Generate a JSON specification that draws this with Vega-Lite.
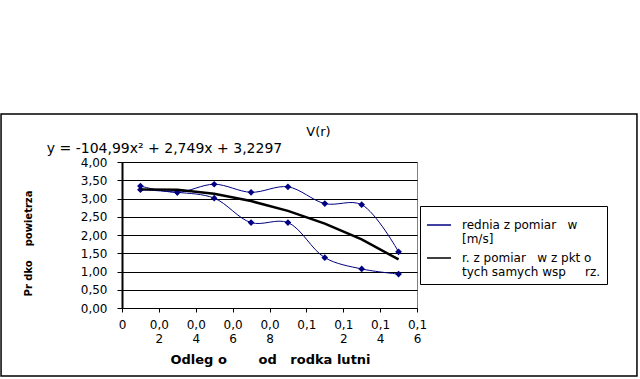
{
  "$schema": "https://vega.github.io/schema/vega-lite/v6.json",
  "width": 295,
  "height": 146,
  "autosize": {"type": "none"},
  "padding": {"left": 122, "top": 162, "right": 223, "bottom": 71},
  "background": "white",
  "config": {
    "font": "DejaVu Sans",
    "view": {"stroke": "#808080", "strokeWidth": 1}
  },
  "title": {
    "text": "V(r)",
    "anchor": "middle",
    "frame": "group",
    "dx": 49,
    "offset": -36,
    "baseline": "alphabetic",
    "font": "DejaVu Sans",
    "fontSize": 13,
    "fontWeight": "normal",
    "color": "black"
  },
  "datasets": {
    "pomiary": [
      {"seria": "  rednia z pomiar  w [m/s]", "galaz": "gorna", "r": 0.01, "v": 3.34},
      {"seria": "  rednia z pomiar  w [m/s]", "galaz": "gorna", "r": 0.03, "v": 3.17},
      {"seria": "  rednia z pomiar  w [m/s]", "galaz": "gorna", "r": 0.05, "v": 3.39},
      {"seria": "  rednia z pomiar  w [m/s]", "galaz": "gorna", "r": 0.07, "v": 3.17},
      {"seria": "  rednia z pomiar  w [m/s]", "galaz": "gorna", "r": 0.09, "v": 3.32},
      {"seria": "  rednia z pomiar  w [m/s]", "galaz": "gorna", "r": 0.11, "v": 2.86},
      {"seria": "  rednia z pomiar  w [m/s]", "galaz": "gorna", "r": 0.13, "v": 2.83},
      {"seria": "  rednia z pomiar  w [m/s]", "galaz": "gorna", "r": 0.15, "v": 1.54},
      {"seria": "  rednia z pomiar  w [m/s]", "galaz": "dolna", "r": 0.01, "v": 3.24},
      {"seria": "  rednia z pomiar  w [m/s]", "galaz": "dolna", "r": 0.03, "v": 3.17},
      {"seria": "  rednia z pomiar  w [m/s]", "galaz": "dolna", "r": 0.05, "v": 3.01},
      {"seria": "  rednia z pomiar  w [m/s]", "galaz": "dolna", "r": 0.07, "v": 2.34},
      {"seria": "  rednia z pomiar  w [m/s]", "galaz": "dolna", "r": 0.09, "v": 2.34},
      {"seria": "  rednia z pomiar  w [m/s]", "galaz": "dolna", "r": 0.11, "v": 1.38},
      {"seria": "  rednia z pomiar  w [m/s]", "galaz": "dolna", "r": 0.13, "v": 1.07},
      {"seria": "  rednia z pomiar  w [m/s]", "galaz": "dolna", "r": 0.15, "v": 0.93}
    ],
    "srednia": [
      {"seria": "  r. z pomiar  w z pkt o tych samych wsp  rz.", "r": 0.01, "v": 3.25},
      {"seria": "  r. z pomiar  w z pkt o tych samych wsp  rz.", "r": 0.03, "v": 3.24},
      {"seria": "  r. z pomiar  w z pkt o tych samych wsp  rz.", "r": 0.05, "v": 3.13},
      {"seria": "  r. z pomiar  w z pkt o tych samych wsp  rz.", "r": 0.07, "v": 2.93},
      {"seria": "  r. z pomiar  w z pkt o tych samych wsp  rz.", "r": 0.09, "v": 2.66},
      {"seria": "  r. z pomiar  w z pkt o tych samych wsp  rz.", "r": 0.11, "v": 2.31},
      {"seria": "  r. z pomiar  w z pkt o tych samych wsp  rz.", "r": 0.13, "v": 1.88},
      {"seria": "  r. z pomiar  w z pkt o tych samych wsp  rz.", "r": 0.15, "v": 1.33}
    ],
    "rownanie": [{"tekst": "y = -104,99x² + 2,749x + 3,2297"}],
    "ramka": [{"opis": "obszar wykresu"}]
  },
  "layer": [
    {
      "data": {"name": "pomiary"},
      "mark": {"type": "line", "interpolate": "catmull-rom", "strokeWidth": 1},
      "encoding": {
        "x": {
          "field": "r", "type": "quantitative",
          "scale": {"domain": [0, 0.16], "nice": false, "zero": false},
          "axis": {
            "values": [0, 0.02, 0.04, 0.06, 0.08, 0.1, 0.12, 0.14, 0.16],
            "tickCount": 20,
            "labelExpr": "length(replace(format(datum.value, '.2~f'), '.', ',')) > 3 ? [substring(replace(format(datum.value, '.2~f'), '.', ','), 0, 3), substring(replace(format(datum.value, '.2~f'), '.', ','), 3)] : replace(format(datum.value, '.2~f'), '.', ',')",
            "labelOverlap": false,
            "labelFlush": false,
            "labelBound": false,
            "labelFont": "DejaVu Sans",
            "labelFontSize": 12,
            "labelColor": "black",
            "labelLineHeight": 14,
            "labelPadding": 7,
            "labelBaseline": "top",
            "grid": false,
            "domainColor": "black",
            "domainWidth": 1,
            "tickColor": "black",
            "tickSize": 4,
            "title": "Odleg o\u00a0\u00a0\u00a0\u00a0\u00a0\u00a0\u00a0od\u00a0\u00a0\u00a0rodka lutni",
            "titleFont": "DejaVu Sans",
            "titleFontSize": 13,
            "titleFontWeight": "bold",
            "titleColor": "black",
            "titleX": 148,
            "titleY": 55,
            "titleAlign": "center",
            "titleBaseline": "alphabetic"
          }
        },
        "y": {
          "field": "v", "type": "quantitative",
          "scale": {"domain": [0, 4], "nice": false, "zero": false},
          "axis": {
            "values": [0, 0.5, 1, 1.5, 2, 2.5, 3, 3.5, 4],
            "tickCount": 20,
            "labelExpr": "replace(format(datum.value, '.2f'), '.', ',')",
            "labelFont": "DejaVu Sans",
            "labelFontSize": 12,
            "labelColor": "black",
            "labelPadding": 10,
            "labelOverlap": false,
            "grid": true,
            "gridColor": "black",
            "gridOpacity": 1,
            "gridWidth": 1,
            "domainColor": "black",
            "domainWidth": 2,
            "tickColor": "black",
            "tickSize": 5,
            "title": "Pr dko\u00a0\u00a0\u00a0\u00a0powietrza",
            "titleFont": "DejaVu Sans",
            "titleFontSize": 10,
            "titleFontWeight": "bold",
            "titleColor": "black",
            "titleAngle": -90,
            "titleX": -94,
            "titleY": 81,
            "titleAlign": "center",
            "titleBaseline": "middle"
          }
        },
        "detail": {"field": "galaz", "type": "nominal"},
        "color": {
          "field": "seria", "type": "nominal",
          "scale": {
            "domain": ["  rednia z pomiar  w [m/s]", "  r. z pomiar  w z pkt o tych samych wsp  rz."],
            "range": ["#000080", "#000000"]
          },
          "legend": {
            "orient": "none",
            "legendX": 298,
            "legendY": 44,
            "title": null,
            "strokeColor": "black",
            "fillColor": "white",
            "padding": 6,
            "rowPadding": 0,
            "symbolSize": 576,
            "symbolType": "stroke",
            "symbolStrokeWidth": 1.5,
            "labelFont": "DejaVu Sans",
            "labelFontSize": 12,
            "labelColor": "black",
            "labelLimit": 0,
            "labelOffset": 10,
            "labelLineHeight": 12,
            "labelExpr": "indexof(datum.label, 'rednia') >= 0 ? ['\u00a0\u00a0\u00a0rednia z pomiar\u00a0\u00a0\u00a0w\u00a0\u00a0\u00a0\u00a0\u00a0\u00a0\u00a0\u00a0', '[m/s]'] : ['\u00a0\u00a0\u00a0r. z pomiar\u00a0\u00a0\u00a0w z pkt o\u00a0\u00a0\u00a0\u00a0', 'tych samych wsp\u00a0\u00a0\u00a0\u00a0\u00a0rz.']"
          }
        }
      }
    },
    {
      "data": {"name": "pomiary"},
      "mark": {"type": "point", "shape": "diamond", "filled": true, "size": 45, "color": "#000080", "opacity": 1},
      "encoding": {
        "x": {"field": "r", "type": "quantitative"},
        "y": {"field": "v", "type": "quantitative"}
      }
    },
    {
      "data": {"name": "srednia"},
      "mark": {"type": "line", "strokeWidth": 2.5},
      "encoding": {
        "x": {"field": "r", "type": "quantitative"},
        "y": {"field": "v", "type": "quantitative"},
        "color": {"field": "seria", "type": "nominal"}
      }
    },
    {
      "data": {"name": "rownanie"},
      "mark": {"type": "text", "align": "left", "baseline": "alphabetic", "font": "DejaVu Sans", "fontSize": 14, "color": "black"},
      "encoding": {
        "x": {"datum": -0.0408, "type": "quantitative"},
        "y": {"datum": 4.25, "type": "quantitative"},
        "text": {"field": "tekst"}
      }
    },
    {
      "data": {"name": "ramka"},
      "mark": {"type": "rect", "fill": "white", "fillOpacity": 0, "stroke": "black", "strokeWidth": 1.5},
      "encoding": {
        "x": {"datum": -0.0656, "type": "quantitative"},
        "x2": {"datum": 0.2793},
        "y": {"datum": 5.315, "type": "quantitative"},
        "y2": {"datum": -1.863}
      }
    }
  ]
}
